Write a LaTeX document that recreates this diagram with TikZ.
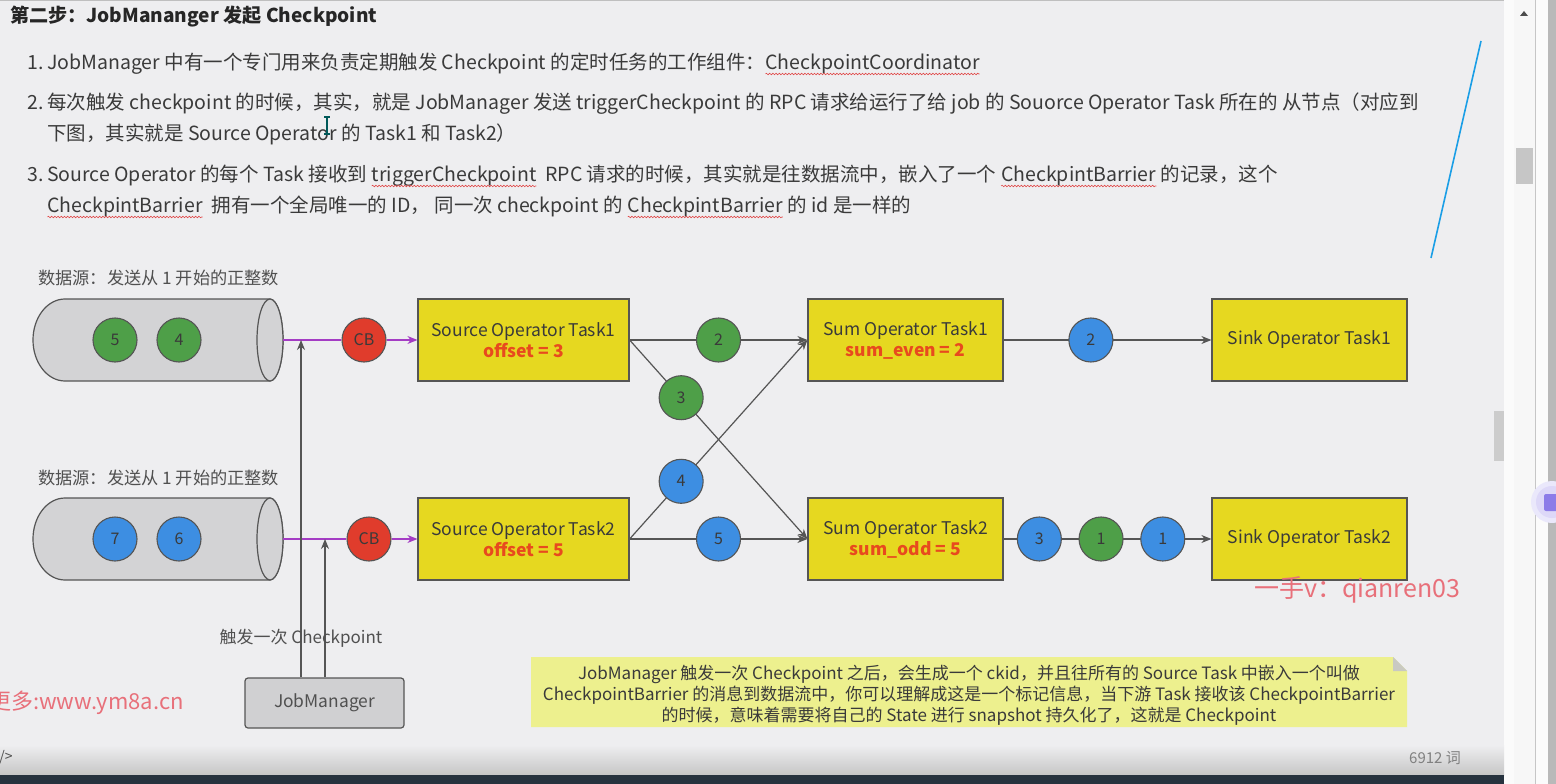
\documentclass[tikz,border=0pt]{standalone}
\usepackage{fontspec}
\setmainfont{Noto Sans CJK SC}
\usetikzlibrary{arrows.meta,decorations.pathmorphing}
\definecolor{bg}{HTML}{EEEEF0}
\definecolor{txt}{HTML}{3A3A3A}
\definecolor{dtxt}{HTML}{505050}
\definecolor{cylg}{HTML}{D3D3D5}
\definecolor{edge}{HTML}{555555}
\definecolor{yel}{HTML}{E6D820}
\definecolor{grn}{HTML}{4E9F48}
\definecolor{blu}{HTML}{3D8EE2}
\definecolor{cbred}{HTML}{E03C2C}
\definecolor{offred}{HTML}{E84A1E}
\definecolor{purp}{HTML}{A43CC4}
\definecolor{notey}{HTML}{EDF08E}
\definecolor{notefold}{HTML}{C9C9C2}
\definecolor{wm}{HTML}{E8707A}
\definecolor{wavyred}{HTML}{E04848}
\definecolor{pen}{HTML}{1A9EE6}
\definecolor{jmg}{HTML}{D0D0D2}
\definecolor{barc}{HTML}{26323E}
\definecolor{iconv}{HTML}{8C7CE8}
\newcommand\offsfont{\color{offred}\bfseries}
\tikzset{
  wav/.style={wavyred, line width=.6pt, decorate, decoration={snake,amplitude=.8pt,segment length=3.2pt}},
  ltext/.style={anchor=base west, inner sep=0pt, text=txt, font=\fontsize{19.5pt}{23pt}\selectfont},
  dlabel/.style={anchor=base west, inner sep=0pt, text=dtxt, font=\fontsize{17.2pt}{20pt}\selectfont},
  task/.style={rectangle, draw=edge, line width=1.2pt, fill=yel, minimum height=82pt, inner sep=0pt, align=center, text=txt, font=\fontsize{17.5pt}{21pt}\selectfont},
  dot/.style={circle, draw=edge, line width=1.1pt, minimum size=44pt, inner sep=0pt, text=txt, font=\fontsize{16pt}{18pt}\selectfont},
  flow/.style={draw=edge, line width=1.2pt, -{Stealth[length=10pt,width=8pt]}},
  pline/.style={draw=purp, line width=1.2pt},
  parrow/.style={draw=purp, line width=1.2pt, -{Stealth[length=10pt,width=8pt]}},
  jmbox/.style={rectangle, rounded corners=3pt, draw=edge, line width=1.2pt, fill=jmg, minimum width=159pt, minimum height=50pt, text=dtxt, font=\fontsize{17.4pt}{20pt}\selectfont},
  cylbody/.style={draw=edge, line width=1.2pt, fill=cylg},
  notetext/.style={align=center, inner sep=0pt, text=txt, font=\fontsize{17pt}{21pt}\selectfont},
  wmark/.style={inner sep=0pt, text=wm}
}
\newcommand\wv[1]{\tikz[baseline=(w.base)]{\node[inner sep=0pt,outer sep=0pt](w){#1};\draw[wav]([yshift=-4.5pt]w.base west)--([yshift=-4.5pt]w.base east);}}
\begin{document}
\begin{tikzpicture}[x=1pt,y=-1pt]
\useasboundingbox (0,0) rectangle (1556,784);
\fill[bg] (0,0) rectangle (1556,784);
% right panel
\fill[white!97!gray] (1504,0) rectangle (1556,784);
\fill[white!94!gray] (1514,0) rectangle (1535,784);
\draw[gray!45, line width=.8pt] (1535,0) -- (1535,784);
\fill[gray!45] (1516,148) rectangle (1533,184);
\fill[black!70] (1520,16) -- (1528,16) -- (1524,11) -- cycle;
\fill[gray!55] (1548,0) rectangle (1556,784);
\fill[gray!40] (1494,411) rectangle (1504,461);
\draw[gray!50, line width=1pt] (0,1) -- (1504,1);
\fill[iconv!18] (1552,502) circle[radius=21];
\fill[iconv!30] (1552,502) circle[radius=16];
\fill[iconv, rounded corners=2pt] (1544,494) rectangle (1560,511);
% bottom
\shade[top color=bg, bottom color=gray!45] (0,745) rectangle (1504,775);
\fill[barc] (0,775) rectangle (1504,784);
\node[inner sep=0pt, text=dtxt, font=\fontsize{14pt}{16pt}\selectfont] (slash) at (6,757) {/>};
\node[inner sep=0pt, text=gray, font=\fontsize{15pt}{16pt}\selectfont] (wc) at (1435,758) {6912 词};
% pen stroke
\draw[pen, line width=1.6pt] (1481,41) -- (1431,258);
% heading
\node[ltext, font=\bfseries\fontsize{19.1pt}{22pt}\selectfont, text=black!85] (head) at (10,23) {第二步：JobMananger 发起 Checkpoint};
% list
\node[ltext] (n1) at (27,69.5) {1.};
\node[ltext] (l1) at (47,69.5) {JobManager 中有一个专门用来负责定期触发 Checkpoint 的定时任务的工作组件：};
\node[ltext] (l1b) at (765,69.5) {\wv{CheckpointCoordinator}};
\node[ltext] (n2) at (27,109.5) {2.};
\node[ltext] (l2) at (47,109.5) {每次触发 checkpoint 的时候，其实，就是 JobManager 发送 triggerCheckpoint 的 RPC 请求给运行了给 job 的 Souorce Operator Task 所在的 从节点（对应到};
\node[ltext] (l2b) at (47,140.5) {下图，其实就是 Source Operator 的 Task1 和 Task2）};
\node[ltext] (n3) at (27,181.5) {3.};
\node[ltext] (l3) at (47,181.5) {Source Operator 的每个 Task 接收到 \wv{triggerCheckpoint}\ \ RPC 请求的时候，其实就是往数据流中，嵌入了一个 \wv{CheckpintBarrier} 的记录，这个};
\node[ltext] (l3b) at (47,212.5) {\wv{CheckpintBarrier}\ \ 拥有一个全局唯一的 ID，\ 同一次 checkpoint 的 \wv{CheckpintBarrier} 的 id 是一样的};
% text cursor
\draw[teal!70!black, line width=1.6pt] (327,117) -- (327,134) (324,117) -- (330,117) (324,134) -- (330,134);
% source labels
\node[dlabel] (lab1) at (38,284) {数据源：发送从 1 开始的正整数};
\node[dlabel] (lab2) at (38,484) {数据源：发送从 1 开始的正整数};
% cylinders
\draw[cylbody] (270,299) -- (65,299) arc[start angle=270, end angle=90, x radius=32, y radius=41] -- (270,381) arc[start angle=90, end angle=-90, x radius=13, y radius=41] -- cycle;
\draw[cylbody] (270,340) ellipse[x radius=13, y radius=41];
\draw[cylbody] (270,498) -- (65,498) arc[start angle=270, end angle=90, x radius=32, y radius=41] -- (270,580) arc[start angle=90, end angle=-90, x radius=13, y radius=41] -- cycle;
\draw[cylbody] (270,539) ellipse[x radius=13, y radius=41];
\node[dot, fill=grn] (d5) at (115,340) {5};
\node[dot, fill=grn] (d4) at (179,340) {4};
\node[dot, fill=blu] (d7) at (115,539) {7};
\node[dot, fill=blu] (d6) at (179,539) {6};
\coordinate (c1o) at (283,340);
\coordinate (c2o) at (283,539);
\coordinate (j1) at (301,340);
\coordinate (j2) at (325,539);
% tasks
\node[task, minimum width=211pt] (s1) at (523.5,340) {Source Operator Task1\\{\offsfont offset = 3}};
\node[task, minimum width=211pt] (s2) at (523.5,539) {Source Operator Task2\\{\offsfont offset = 5}};
\node[task, minimum width=195pt] (u1) at (905.5,340) {Sum Operator Task1\\{\offsfont sum\_even = 2}};
\node[task, minimum width=195pt] (u2) at (905.5,539) {Sum Operator Task2\\{\offsfont sum\_odd = 5}};
\node[task, minimum width=195pt] (k1) at (1309.5,340) {Sink Operator Task1};
\node[task, minimum width=195pt] (k2) at (1309.5,539) {Sink Operator Task2};
% checkpoint barriers
\node[dot, fill=cbred] (cb1) at (364,340) {CB};
\node[dot, fill=cbred] (cb2) at (369,539) {CB};
\draw[pline] (c1o) -- (cb1);
\draw[parrow] (cb1) -- (s1);
\draw[pline] (c2o) -- (cb2);
\draw[parrow] (cb2) -- (s2);
% job manager
\node[jmbox] (jm) at (324.5,703) {JobManager};
\draw[flow] (jm.north -| j1) -- (j1);
\draw[flow] (jm.north -| j2) -- (j2);
\node[inner sep=0pt, text=dtxt, font=\fontsize{17pt}{20pt}\selectfont] (trg) at (301,638) {触发一次 Checkpoint};
% data flows
\draw[flow] (s1.east) -- node[dot, fill=grn, pos=.5] (e2) {2} (u1.west);
\draw[flow] (s1.east) -- node[dot, fill=grn, pos=.29] (e3) {3} (u2.west);
\draw[flow] (s2.east) -- node[dot, fill=blu, pos=.29] (e4) {4} (u1.west);
\draw[flow] (s2.east) -- node[dot, fill=blu, pos=.5] (e5) {5} (u2.west);
\draw[flow] (u1.east) -- node[dot, fill=blu, pos=.42] (f2) {2} (k1.west);
\draw[flow] (u2.east) -- node[dot, fill=blu, pos=.172] (g3) {3} node[dot, fill=grn, pos=.469] (g1) {1} node[dot, fill=blu, pos=.766] (h1) {1} (k2.west);
% note
\fill[notey] (531,657) -- (1393,657) -- (1407,671) -- (1407,727) -- (531,727) -- cycle;
\fill[notefold] (1393,657) -- (1393,671) -- (1407,671) -- cycle;
\node[notetext] (note) at (969,695) {JobManager 触发一次 Checkpoint 之后，会生成一个 ckid，并且往所有的 Source Task 中嵌入一个叫做\\CheckpointBarrier 的消息到数据流中，你可以理解成这是一个标记信息，当下游 Task 接收该 CheckpointBarrier\\的时候，意味着需要将自己的 State 进行 snapshot 持久化了，这就是 Checkpoint};
% watermarks
\node[wmark, font=\fontsize{25pt}{28pt}\selectfont] (wm1) at (1357,590) {一手v：qianren03};
\node[wmark, anchor=west, font=\fontsize{22pt}{26pt}\selectfont] (wm2) at (-11,703) {更多:www.ym8a.cn};
\end{tikzpicture}
\end{document}
